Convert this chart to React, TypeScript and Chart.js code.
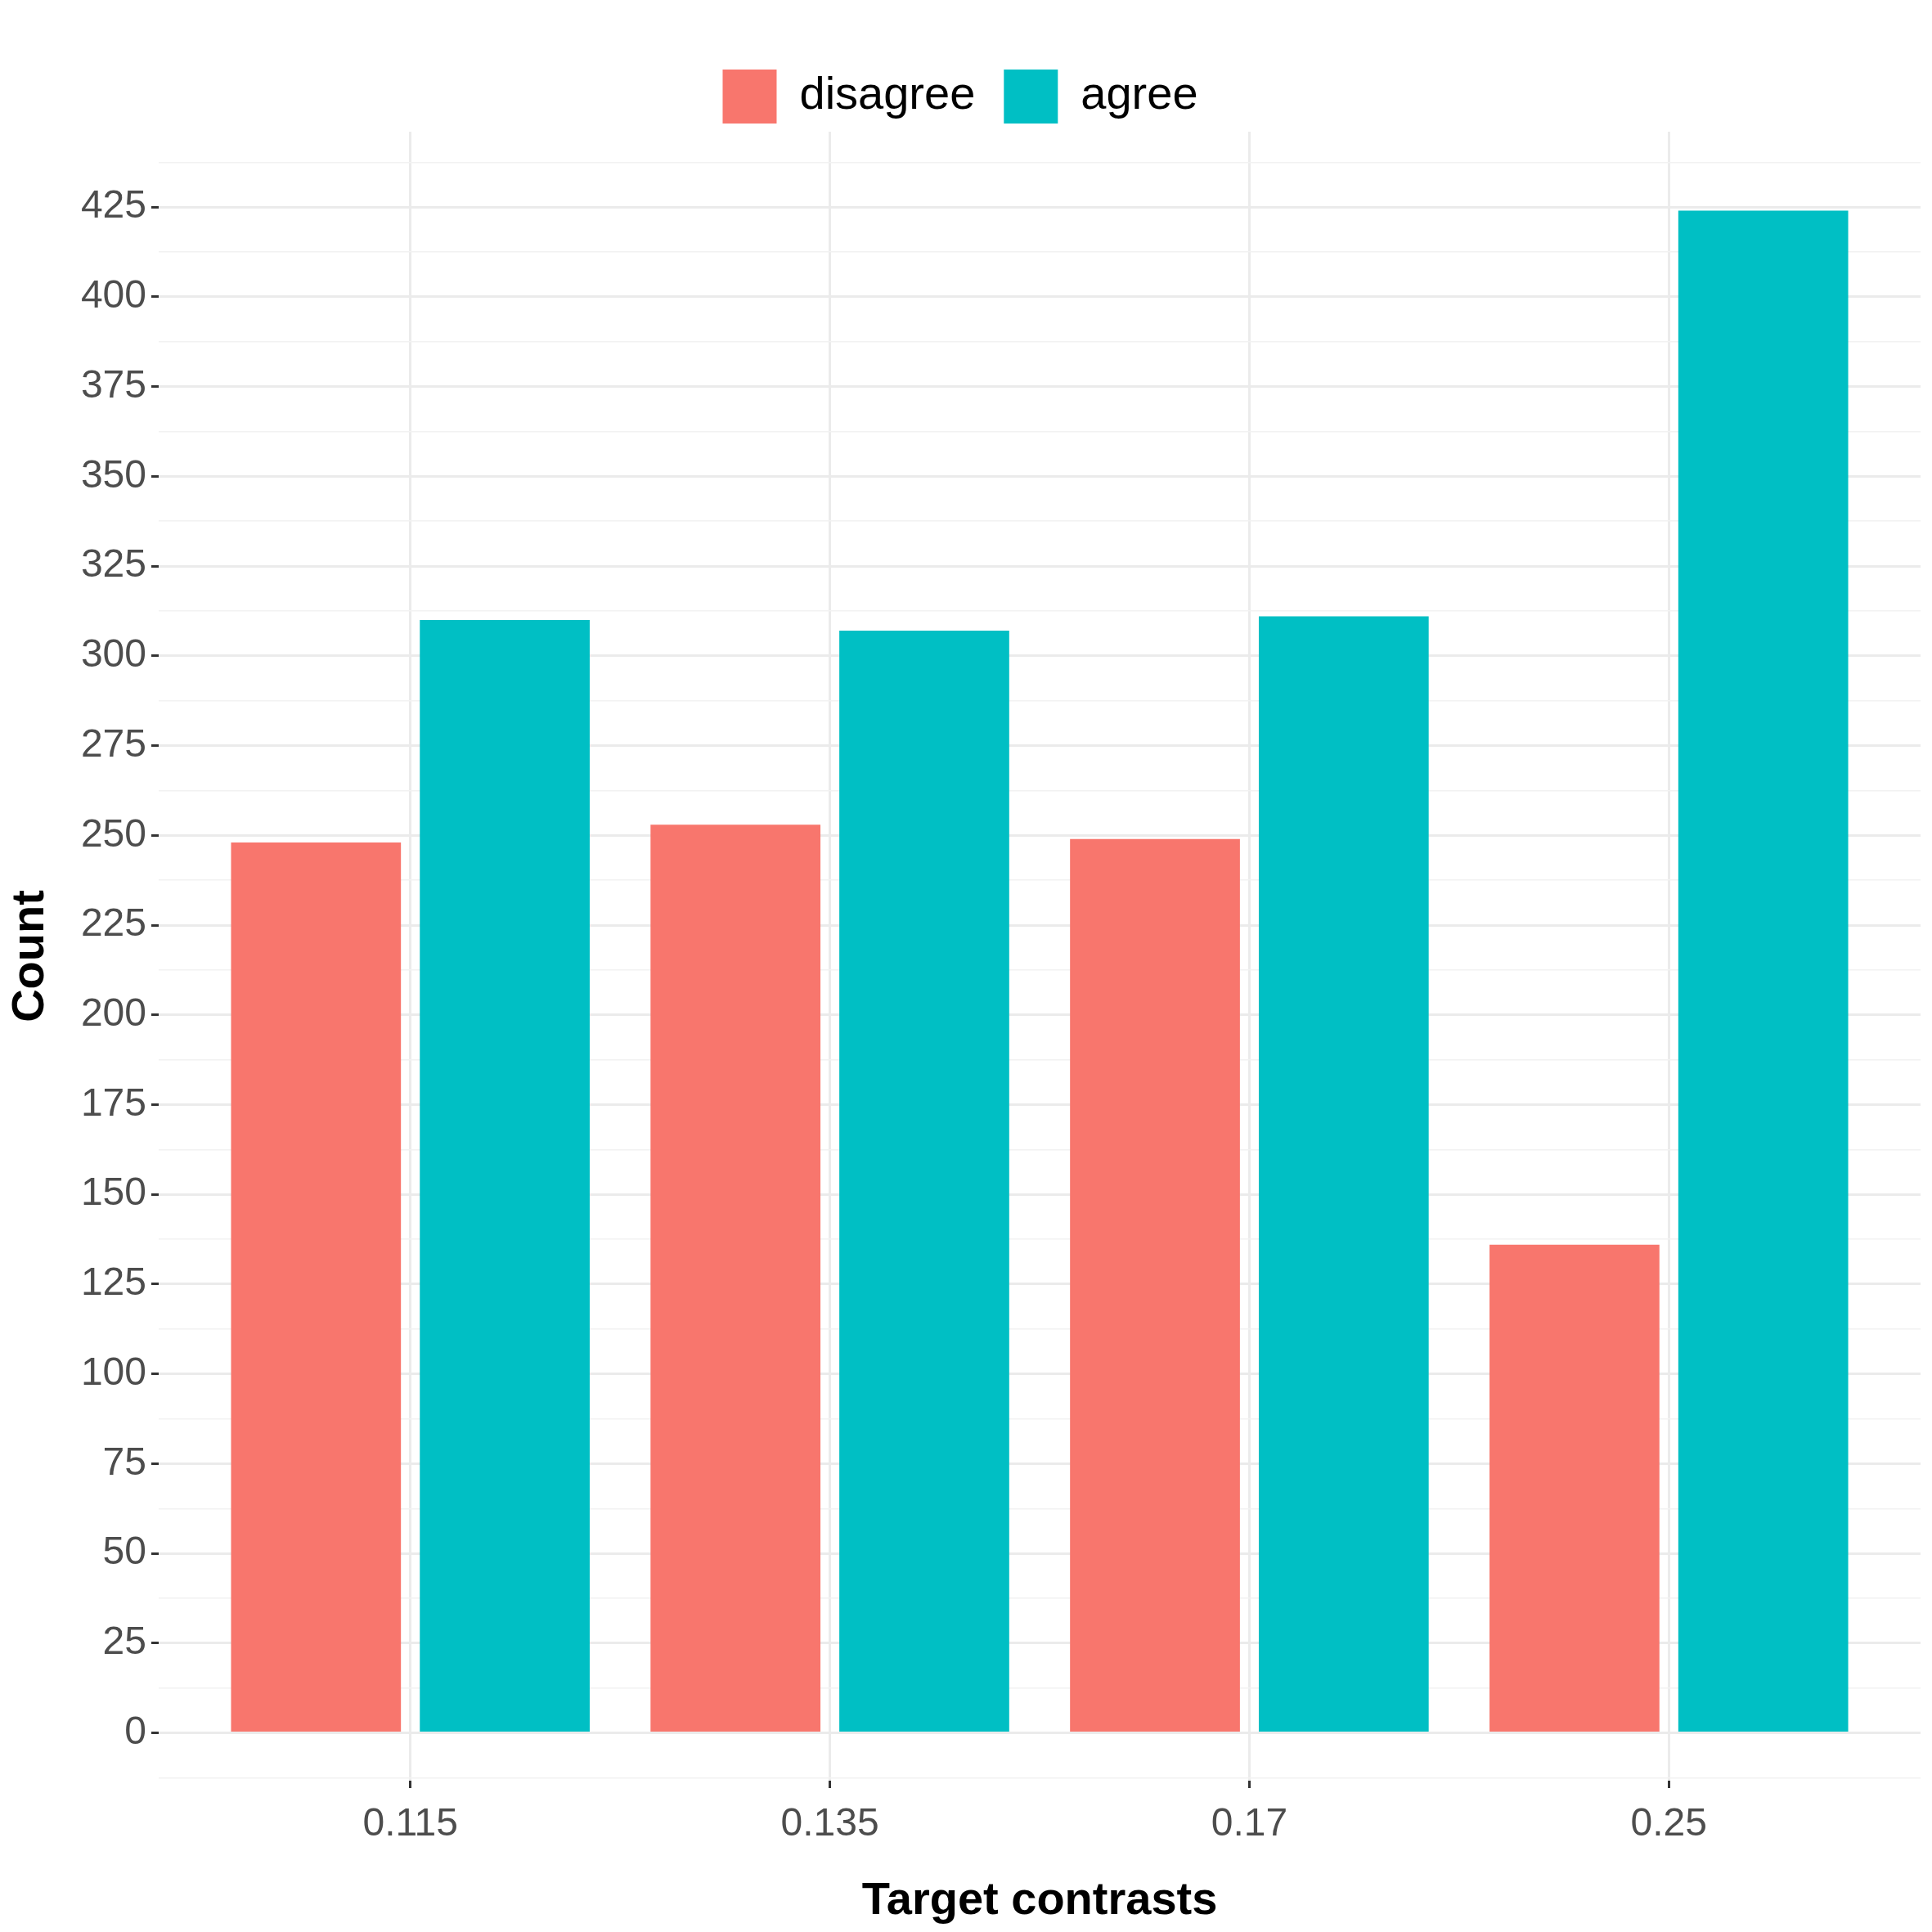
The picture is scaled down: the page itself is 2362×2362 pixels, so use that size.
import { useEffect, useRef } from "react"
import { Chart, registerables } from "chart.js"

Chart.register(...registerables)

const categories = ["0.115", "0.135", "0.17", "0.25"]
const disagree = [248, 253, 249, 136]
const agree = [310, 307, 311, 424]

const FONT = "'Liberation Sans', Arial, sans-serif"

export default function App() {
  const ref = useRef<HTMLCanvasElement>(null)

  useEffect(() => {
    document.body.style.margin = "0"
    const ctx = ref.current?.getContext("2d")
    if (!ctx) return
    const chart = new Chart(ctx, {
      type: "bar",
      data: {
        datasets: [
          { label: "disagree", data: disagree.map((y, i) => ({ x: i, y })), backgroundColor: "#F8766D" },
          { label: "agree", data: agree.map((y, i) => ({ x: i, y })), backgroundColor: "#00BFC4" },
        ],
      },
      options: {
        animation: false,
        responsive: false,
        layout: { padding: { left: 0, right: 14, top: 50, bottom: 0 } },
        datasets: { bar: { categoryPercentage: 0.9, barPercentage: 0.9 } },
        plugins: {
          tooltip: { enabled: false },
          legend: {
            position: "top",
            labels: {
              boxWidth: 66,
              boxHeight: 66,
              padding: 35,
              color: "#000",
              font: { family: FONT, size: 56 },
            },
          },
        },
        scales: {
          x: {
            type: "linear",
            min: -0.6,
            max: 3.6,
            offset: false,
            afterBuildTicks: (s: any) => {
              s.ticks = categories.map((_, i) => ({ value: i }))
            },
            afterFit: (s: any) => {
              s.height = 185
            },
            ticks: {
              callback: (v: any) => categories[v] ?? "",
              color: "#4D4D4D",
              font: { family: FONT, size: 48 },
              padding: 16,
            },
            grid: { offset: false, color: "#EBEBEB", lineWidth: 3, tickLength: 9, tickColor: "#333", tickWidth: 3 },
            border: { display: false },
            title: {
              display: true,
              text: "Target contrasts",
              color: "#000",
              font: { family: FONT, size: 56, weight: "bold" },
              padding: { top: 0 },
            },
          },
          y: {
            min: -13.3,
            max: 446,
            afterBuildTicks: (s: any) => {
              const t = []
              for (let v = -12.5; v <= 437.5; v += 12.5) t.push({ value: v })
              s.ticks = t
            },
            afterFit: (s: any) => {
              s.width = 194
            },
            ticks: {
              autoSkip: false,
              callback: (v: any) => (v >= 0 && v % 25 === 0 ? String(v) : ""),
              color: "#4D4D4D",
              font: { family: FONT, size: 48 },
              padding: 6,
            },
            grid: {
              color: (c: any) => (c.tick && c.tick.value % 25 === 0 ? "#EBEBEB" : "#F2F2F2"),
              lineWidth: (c: any) => (c.tick && c.tick.value % 25 === 0 ? 3 : 1.5),
              tickLength: 9,
              tickColor: (c: any) => (c.tick && c.tick.value % 25 === 0 && c.tick.value >= 0 ? "#333" : "rgba(0,0,0,0)"),
              tickWidth: 3,
            },
            border: { display: false },
            title: {
              display: true,
              text: "Count",
              color: "#000",
              font: { family: FONT, size: 56, weight: "bold" },
              padding: { bottom: 0 },
            },
          },
        },
      },
    } as any)
    return () => chart.destroy()
  }, [])

  return (
    <div style={{ width: 2362, height: 2362, background: "#fff" }}>
      <canvas ref={ref} width={2362} height={2362} />
    </div>
  )
}
